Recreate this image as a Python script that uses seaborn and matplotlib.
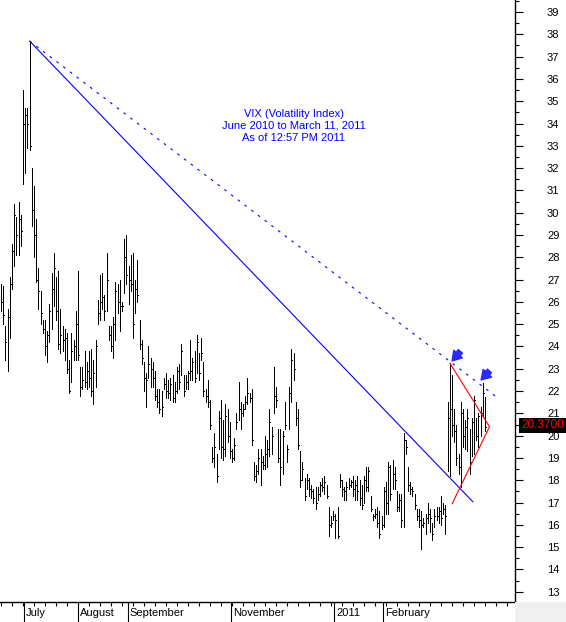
import numpy as np
import pandas as pd
import matplotlib
matplotlib.use("Agg")
import matplotlib.pyplot as plt
import matplotlib.transforms as mtransforms
from matplotlib.patches import Rectangle
from matplotlib.ticker import MultipleLocator, FixedLocator, NullFormatter
import seaborn as sns

# VIX daily bars, June 2010 -> March 11, 2011
highs = [
    26.8, 26.7, 24.9, 25.7, 27.1, 28.6, 30.4, 29.8, 30.5, 29.9,
    35.5, 34.7, 34.7, 37.7, 32.0, 31.2, 29.7, 27.5, 26.5, 25.2,
    25.2, 24.7, 25.9, 27.3, 28.2, 27.1, 27.4, 25.7, 24.9, 24.8,
    24.6, 23.4, 24.6, 24.3, 25.6, 27.4, 23.1, 23.1, 23.8, 23.3,
    23.8, 23.9, 23.4, 24.3, 26.1, 27.2,
    27.3, 26.3, 28.2, 24.9, 24.9, 25.3, 26.9, 26.8, 27.0, 26.0,
    28.8, 29.0, 27.6, 28.1, 28.2, 27.0, 27.9, 25.2, 24.3, 23.3,
    22.8, 24.0, 23.5, 23.3, 22.9, 22.1, 22.1, 22.0, 22.6, 22.8,
    22.5, 22.6, 22.7, 22.4, 23.1, 23.2, 24.1, 22.7, 22.7, 22.9,
    24.3, 23.5, 23.8, 24.5, 23.7, 24.4, 23.3, 22.1, 22.5,
    21.6, 19.5, 20.1, 19.2, 21.1, 21.6, 20.7, 21.4, 21.2, 20.6,
    19.4, 19.9, 21.0, 22.4, 21.5, 21.4, 21.8, 22.6, 21.9, 22.1,
    18.8, 18.7, 19.4, 19.4, 19.1, 20.0, 19.8, 21.2, 20.4, 23.1,
    22.2, 20.3, 20.3, 20.2, 21.5, 19.6, 22.2, 23.9, 23.7,
    21.5, 21.2, 19.3, 18.8, 18.1, 18.3, 18.1, 17.8, 17.6, 17.7,
    17.7, 17.9, 18.1, 18.2, 17.8, 16.8, 16.4, 16.6, 16.5, 16.8,
    18.3, 18.0, 17.7, 17.9, 18.1, 18.0, 18.2, 18.0, 18.2, 18.0,
    17.8, 18.2, 18.6, 18.6, 17.3, 16.5, 16.7, 16.8, 16.6, 16.4,
    17.7, 17.9, 18.8, 18.7, 18.9, 18.6, 17.5, 17.4,
    17.4, 20.1, 19.8, 18.6, 17.9, 17.7, 17.4, 16.7, 16.7, 16.6,
    16.3, 16.5, 17.0, 16.7, 16.1, 16.7, 16.8, 16.8, 17.3, 17.0,
    16.9, 21.5, 23.25, 22.7, 21.2, 20.5, 19.2, 21.5, 21.2, 20.7,
    21.2, 20.3, 20.8, 21.8, 20.8, 21.0, 21.3, 22.35, 21.75,
]
lows = [
    25.6, 25.0, 23.4, 22.9, 24.4, 26.6, 27.6, 28.1, 28.1, 28.5,
    31.3, 31.8, 32.9, 32.8, 29.4, 28.0, 26.9, 25.7, 25.0, 24.6,
    23.6, 23.3, 24.2, 24.8, 25.8, 25.2, 23.9, 23.7, 23.8, 23.4,
    22.8, 21.9, 22.4, 23.4, 23.4, 23.4, 21.8, 22.1, 22.2, 22.1,
    22.2, 21.8, 21.4, 22.2, 25.0, 25.2,
    25.7, 25.2, 25.6, 24.3, 23.8, 23.5, 24.3, 25.5, 24.7, 25.6,
    26.4, 26.8, 25.9, 26.5, 24.4, 25.5, 26.0, 23.9, 23.2, 22.0,
    21.3, 22.6, 22.2, 22.2, 21.6, 21.3, 21.0, 20.9, 22.1, 21.7,
    21.7, 21.6, 21.5, 21.5, 21.9, 22.1, 22.7, 21.8, 22.1, 22.1,
    22.5, 22.5, 22.4, 22.8, 22.5, 23.4, 21.8, 21.5, 21.3,
    20.3, 18.8, 18.6, 17.9, 19.4, 19.0, 18.9, 19.1, 19.7, 19.0,
    18.8, 18.9, 20.3, 20.7, 20.3, 20.9, 21.2, 21.4, 21.5, 19.6,
    18.0, 17.9, 18.3, 17.8, 18.5, 18.5, 18.6, 19.1, 19.2, 21.0,
    21.3, 18.8, 17.8, 18.3, 20.3, 18.8, 20.3, 21.5, 22.5,
    20.5, 19.4, 17.7, 18.0, 17.1, 17.6, 17.3, 17.2, 17.0, 16.7,
    17.1, 17.3, 17.5, 17.4, 17.2, 15.5, 15.9, 16.2, 15.4, 15.4,
    17.7, 17.3, 17.1, 17.1, 17.6, 17.7, 17.3, 17.1, 17.1, 16.9,
    16.7, 17.0, 17.5, 17.5, 16.6, 16.2, 16.3, 15.9, 15.4, 15.8,
    15.9, 16.5, 16.5, 17.1, 17.6, 17.6, 16.6, 16.6,
    15.9, 15.9, 19.2, 17.5, 17.4, 17.3, 16.7, 16.2, 15.9, 14.9,
    15.9, 15.6, 16.1, 15.7, 15.3, 15.9, 16.2, 16.1, 16.0, 16.5,
    15.6, 18.4, 18.2, 20.0, 19.7, 18.7, 18.3, 17.7, 19.5, 19.4,
    19.3, 18.3, 19.1, 19.2, 19.8, 19.5, 20.0, 20.9, 20.2,
]
closes = [
    26.0, 25.4, 24.2, 25.3, 26.8, 28.3, 29.9, 29.0, 29.7, 29.2,
    34.0, 34.4, 34.0, 33.0, 30.1, 29.0, 27.0, 26.5, 25.5, 24.8,
    24.0, 24.5, 25.6, 26.6, 27.5, 25.6, 24.1, 24.5, 24.3, 24.4,
    23.0, 22.0, 23.8, 24.0, 25.0, 23.6, 22.2, 22.5, 22.4, 22.9,
    22.6, 22.0, 22.8, 24.0, 25.5, 26.0,
    26.2, 25.6, 27.0, 24.5, 24.0, 25.0, 26.5, 26.0, 25.8, 25.8,
    28.0, 27.2, 27.0, 26.8, 25.0, 26.6, 26.3, 24.1, 23.5, 22.6,
    22.5, 23.2, 23.0, 22.6, 21.8, 21.5, 21.2, 21.3, 22.3, 22.0,
    21.9, 22.3, 21.7, 22.0, 22.9, 22.4, 23.8, 22.0, 22.4, 22.8,
    22.9, 23.3, 22.6, 24.2, 22.8, 23.7, 22.0, 21.8, 21.5,
    20.5, 19.0, 19.5, 18.2, 20.8, 19.5, 19.4, 20.9, 20.0, 19.3,
    19.0, 19.6, 20.6, 21.2, 21.0, 21.2, 21.5, 21.9, 21.7, 19.8,
    18.2, 18.4, 19.0, 18.8, 18.7, 19.2, 19.4, 20.6, 20.0, 21.8,
    21.6, 19.0, 18.6, 20.0, 20.5, 19.4, 21.9, 23.4, 23.0,
    20.8, 19.6, 18.0, 18.5, 17.3, 18.0, 17.6, 17.5, 17.2, 17.0,
    17.4, 17.8, 17.7, 17.9, 17.3, 16.0, 16.1, 16.4, 16.2, 15.5,
    18.0, 17.6, 17.5, 17.7, 17.8, 17.9, 17.6, 17.8, 17.5, 17.2,
    16.9, 18.0, 17.7, 18.4, 16.7, 16.4, 16.5, 16.1, 15.6, 16.0,
    17.5, 17.0, 18.6, 17.4, 18.3, 18.0, 16.8, 17.1,
    16.2, 19.8, 19.5, 17.8, 17.6, 17.5, 16.9, 16.4, 16.2, 16.0,
    16.1, 16.3, 16.5, 16.3, 15.6, 16.4, 16.4, 16.6, 16.3, 16.7,
    16.4, 20.8, 21.2, 20.5, 20.2, 19.0, 18.6, 21.0, 20.0, 20.4,
    20.8, 18.8, 20.6, 21.6, 20.0, 20.9, 21.0, 21.9, 20.37,
]

month_labels = ["July", "August", "September", "November", "2011", "February"]
month_pos = [10.4, 35.0, 57.7, 104.5, 151.4, 173.6]

# trend lines in (bar index, price)
down_x = [13, 214.5]
down_y = [37.70, 17.03]
dash_x = [13, 225.8]
dash_y = [37.70, 21.69]
tri_x = [204, 222, 205]
tri_y = [23.25, 20.40, 16.94]
arrow_tips = [(205.0, 23.35), (218.2, 22.50)]
arrow_tails = [(208.8, 23.78), (222.0, 22.90)]
last_price = 20.37

title = "VIX (Volatility Index)\nJune 2010 to March 11, 2011\nAs of 12:57 PM 2011"

sns.set_theme(style="white")
plt.rcParams["font.family"] = ["Liberation Sans", "DejaVu Sans"]

W, H = 566, 622
fig = plt.figure(figsize=(W / 100, H / 100), dpi=100)
ax = fig.add_axes([0, 20 / H, 515 / W, 602 / H])

bars = pd.DataFrame({"high": highs, "low": lows, "close": closes})
bars["i"] = np.arange(len(bars))

# thin 1px bars with a small close tick on the right
ax.vlines(bars["i"], bars["low"], bars["high"], color="black", lw=0.7,
          antialiased=False)
ax.hlines(bars["close"], bars["i"], bars["i"] + 0.45, color="black", lw=0.7,
          antialiased=False)

sns.lineplot(x=down_x, y=down_y, color="blue", lw=0.8, ax=ax)
sns.lineplot(x=dash_x, y=dash_y, color="blue", lw=0.8, ax=ax,
             linestyle=(0, (2.4, 5.2)))
sns.lineplot(x=tri_x, y=tri_y, color="red", lw=0.8, ax=ax, sort=False)

for tip, tail in zip(arrow_tips, arrow_tails):
    ax.annotate("", xy=tip, xytext=tail,
                arrowprops=dict(arrowstyle="simple,head_length=0.6,head_width=0.75,tail_width=0.35",
                                color="#2a2aff", mutation_scale=11, shrinkA=0, shrinkB=0))

ax.set_xlim(-0.45, 233.6)
ax.set_ylim(12.54, 39.54)
ax.set_xlabel("")
ax.set_ylabel("")

for s in ["top", "left"]:
    ax.spines[s].set_visible(False)
for s in ["right", "bottom"]:
    ax.spines[s].set_visible(True)
    ax.spines[s].set_color("black")
    ax.spines[s].set_linewidth(1.0)

# price axis on the right
ax.yaxis.tick_right()
ax.yaxis.set_major_locator(MultipleLocator(1))
ax.yaxis.set_minor_locator(MultipleLocator(0.5))
ax.tick_params(axis="y", which="both", right=True, left=False, labelright=True,
               labelleft=False, direction="out", colors="black", width=0.8)
ax.tick_params(axis="y", which="major", length=6, pad=17, labelsize=8)
ax.tick_params(axis="y", which="minor", length=3)

# date axis
ax.xaxis.set_major_locator(FixedLocator(month_pos))
ax.xaxis.set_major_formatter(NullFormatter())
ax.xaxis.set_minor_locator(MultipleLocator(5))
ax.tick_params(axis="x", which="both", bottom=True, direction="out",
               colors="black", width=0.8)
ax.tick_params(axis="x", which="major", length=15)
ax.tick_params(axis="x", which="minor", length=3)

xtrans = mtransforms.blended_transform_factory(ax.transData, ax.transAxes)
for pos, lab in zip(month_pos, month_labels):
    ax.text(pos + 0.9, -0.0175, lab, transform=xtrans, ha="left", va="center",
            fontsize=8, color="black")

fig.text(294 / W, 1 - 126 / H, title, ha="center", va="center", color="blue",
         fontsize=8, linespacing=1.3, multialignment="center")

# last price box, sitting a touch above the price like the original
ptrans = mtransforms.blended_transform_factory(fig.transFigure, ax.transData)
ptrans = mtransforms.offset_copy(ptrans, fig=fig, x=0, y=2, units="dots")
fig.add_artist(Rectangle((519 / W, last_price - 0.33), 47 / W, 0.67,
                         transform=ptrans, facecolor="black", edgecolor="none",
                         zorder=4))
fig.text(542.5 / W, last_price, f"{last_price:.4f}", transform=ptrans,
         ha="center", va="center", color="red", fontsize=8.5, zorder=5)

fig.add_artist(Rectangle((515 / W, 0), 51 / W, 20 / H, transform=fig.transFigure,
                         facecolor="#f0f0f0", edgecolor="none"))

fig.savefig("out.png", dpi=100)
